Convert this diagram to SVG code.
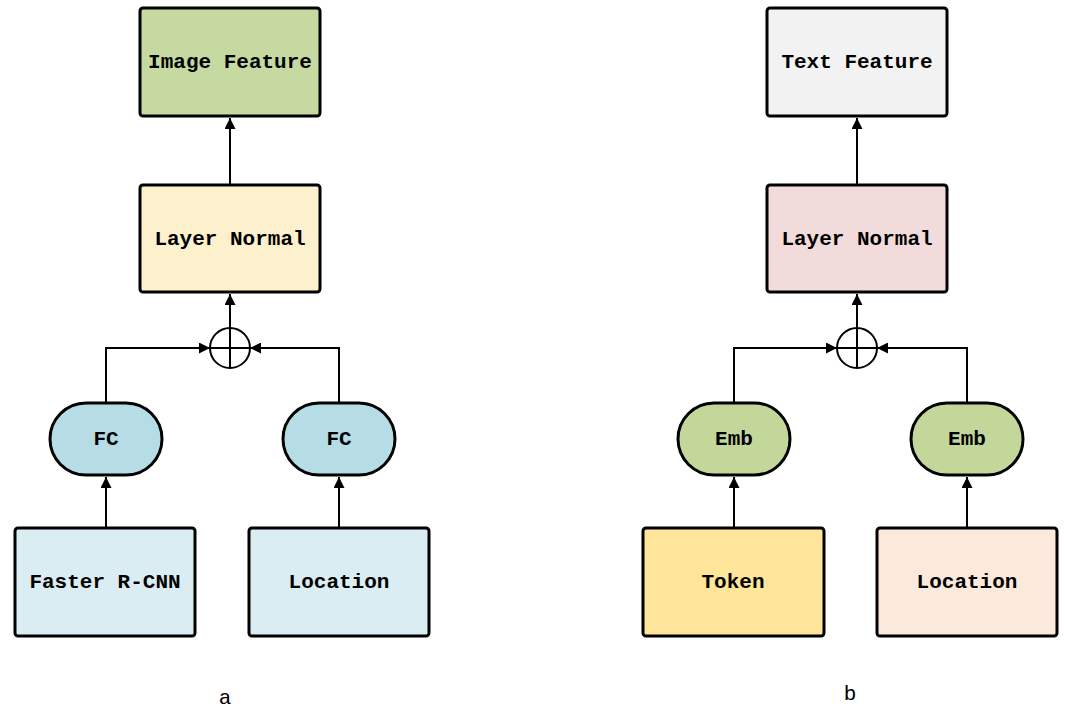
<svg xmlns="http://www.w3.org/2000/svg" width="1065" height="711" viewBox="0 0 1065 711">
<defs>
<marker id="ah" viewBox="0 0 10 10" refX="10" refY="5" markerWidth="11" markerHeight="11" markerUnits="userSpaceOnUse" orient="auto">
<path d="M0,0 L10,5 L0,10 Z" fill="#000"/>
</marker>
</defs>
<style>
.box{stroke:#000;stroke-width:3}
.lbl{font-family:"Liberation Mono",monospace;font-weight:bold;font-size:21px;text-anchor:middle;dominant-baseline:central;fill:#000}
.cap{font-family:"Liberation Mono",monospace;font-size:21px;text-anchor:middle;fill:#000}
.ln{stroke:#000;stroke-width:2;fill:none}
.arr{stroke:#000;stroke-width:2;fill:none;marker-end:url(#ah)}
</style>
<rect width="1065" height="711" fill="#fff"/>

<g id="img-feature"><rect class="box" x="140" y="8" width="180" height="108" rx="3" fill="#c5d9a0"/><text class="lbl" x="230" y="62">Image Feature</text></g>
<g id="layer-norm-a"><rect class="box" x="140" y="185" width="180" height="107" rx="3" fill="#fdf1cd"/><text class="lbl" x="230" y="239">Layer Normal</text></g>
<g id="sum-a"><circle class="ln" cx="230" cy="348" r="20"/><line class="ln" x1="210" y1="348" x2="250" y2="348"/><line class="ln" x1="230" y1="328" x2="230" y2="368"/></g>
<g id="fc-1"><rect class="box" x="50" y="403" width="112" height="72" rx="36" fill="#b6dce6"/><text class="lbl" x="106" y="439">FC</text></g>
<g id="fc-2"><rect class="box" x="283" y="403" width="112" height="72" rx="36" fill="#b6dce6"/><text class="lbl" x="339" y="439">FC</text></g>
<g id="faster-rcnn"><rect class="box" x="15" y="528" width="180" height="108" rx="3" fill="#daedf3"/><text class="lbl" x="105" y="582">Faster R-CNN</text></g>
<g id="location-a"><rect class="box" x="249" y="528" width="180" height="108" rx="3" fill="#daedf3"/><text class="lbl" x="339" y="582">Location</text></g>
<text class="cap" x="225" y="704">a</text>

<g id="text-feature"><rect class="box" x="767" y="8" width="180" height="108" rx="3" fill="#f2f2f2"/><text class="lbl" x="857" y="62">Text Feature</text></g>
<g id="layer-norm-b"><rect class="box" x="767" y="185" width="180" height="107" rx="3" fill="#f2dcdb"/><text class="lbl" x="857" y="239">Layer Normal</text></g>
<g id="sum-b"><circle class="ln" cx="857" cy="348" r="20"/><line class="ln" x1="837" y1="348" x2="877" y2="348"/><line class="ln" x1="857" y1="328" x2="857" y2="368"/></g>
<g id="emb-1"><rect class="box" x="678" y="403" width="112" height="72" rx="36" fill="#c4d79b"/><text class="lbl" x="734" y="439">Emb</text></g>
<g id="emb-2"><rect class="box" x="911" y="403" width="112" height="72" rx="36" fill="#c4d79b"/><text class="lbl" x="967" y="439">Emb</text></g>
<g id="token"><rect class="box" x="643" y="528" width="181" height="108" rx="3" fill="#fee599"/><text class="lbl" x="733" y="582">Token</text></g>
<g id="location-b"><rect class="box" x="877" y="528" width="180" height="108" rx="3" fill="#fbe9dc"/><text class="lbl" x="967" y="582">Location</text></g>
<text class="cap" x="850" y="700">b</text>

<g id="connectors">
<line class="arr" x1="230" y1="184" x2="230" y2="118"/>
<line class="arr" x1="230" y1="328" x2="230" y2="294"/>
<polyline class="arr" points="106,403 106,348 210,348"/>
<polyline class="arr" points="339,403 339,348 250,348"/>
<line class="arr" x1="106" y1="528" x2="106" y2="477"/>
<line class="arr" x1="339" y1="528" x2="339" y2="477"/>

<line class="arr" x1="857" y1="184" x2="857" y2="118"/>
<line class="arr" x1="857" y1="328" x2="857" y2="294"/>
<polyline class="arr" points="734,403 734,348 837,348"/>
<polyline class="arr" points="967,403 967,348 877,348"/>
<line class="arr" x1="734" y1="528" x2="734" y2="477"/>
<line class="arr" x1="967" y1="528" x2="967" y2="477"/>
</g>
</svg>
